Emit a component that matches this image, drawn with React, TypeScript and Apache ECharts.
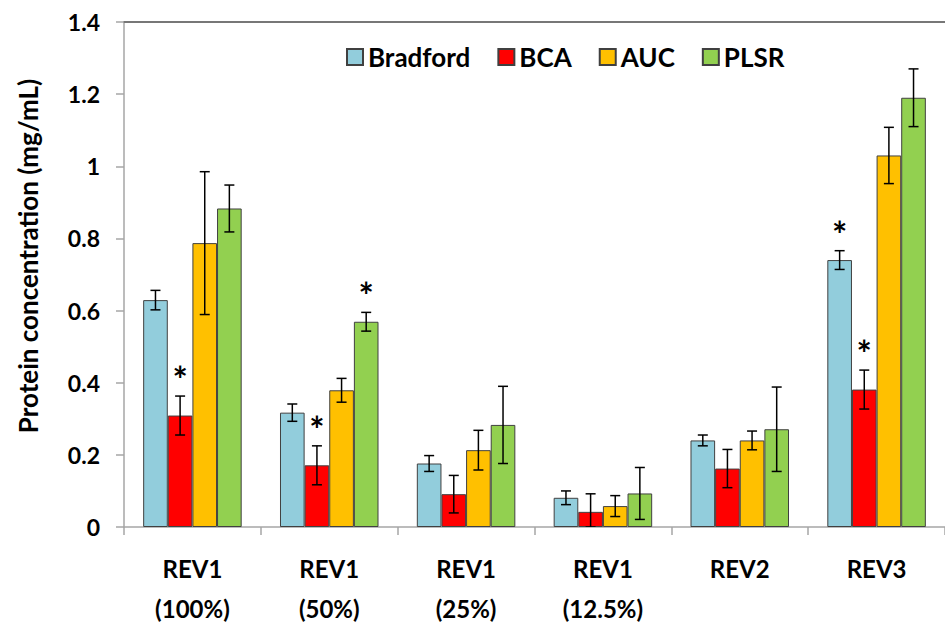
import React, { useEffect, useRef } from "react";
import * as echarts from "echarts";

const categories = ["REV1\n(100%)", "REV1\n(50%)", "REV1\n(25%)", "REV1\n(12.5%)", "REV2", "REV3"];
const seriesNames = ["Bradford", "BCA", "AUC", "PLSR"];
const bradford = [0.629, 0.317, 0.176, 0.081, 0.240, 0.740];
const bradfordErr = [0.027, 0.024, 0.022, 0.019, 0.015, 0.026];
const bca = [0.309, 0.171, 0.091, 0.042, 0.162, 0.381];
const bcaErr = [0.054, 0.054, 0.052, 0.050, 0.053, 0.054];
const auc = [0.787, 0.379, 0.213, 0.058, 0.240, 1.030];
const aucErr = [0.198, 0.033, 0.055, 0.029, 0.026, 0.078];
const plsr = [0.883, 0.569, 0.283, 0.093, 0.271, 1.190];
const plsrErr = [0.065, 0.026, 0.107, 0.072, 0.117, 0.080];
const bradfordStar = [0, 0, 0, 0, 0, 1];
const bcaStar = [1, 1, 0, 0, 0, 1];
const aucStar = [0, 0, 0, 0, 0, 0];
const plsrStar = [0, 1, 0, 0, 0, 0];
const yTitle = "Protein concentration (mg/mL)";

const colors = ["#92CDDC", "#FF0000", "#FFC000", "#92D050"];
const FONT = "Lato";
const BAR_FRAC = 0.18;

export default function App() {
  const ref = useRef<HTMLDivElement>(null);
  useEffect(() => {
    if (!ref.current) return;
    const chart = echarts.init(ref.current, null, { renderer: "svg" });
    const values = [bradford, bca, auc, plsr];
    const errs = [bradfordErr, bcaErr, aucErr, plsrErr];
    const stars = [bradfordStar, bcaStar, aucStar, plsrStar];

    const barSeries = seriesNames.map((name, i) => ({
      name,
      type: "bar",
      data: values[i],
      barWidth: BAR_FRAC * 100 + "%",
      barGap: "0%",
      itemStyle: { color: colors[i], borderColor: "#404040", borderWidth: 1 },
      z: 2,
    }));

    const errSeries = seriesNames.map((name, i) => ({
      name: name + "-err",
      type: "custom",
      z: 5,
      clip: true,
      data: values[i].map((v, k) => [k, v, errs[i][k], stars[i][k]]),
      encode: { x: 0, y: 1 },
      renderItem: (params: any, api: any) => {
        const k = api.value(0);
        const v = api.value(1);
        const e = api.value(2);
        const s = api.value(3);
        const band = api.size([1, 0])[0];
        const off = (i - 1.5) * band * BAR_FRAC;
        const top = api.coord([k, v + e]);
        const bot = api.coord([k, Math.max(0, v - e)]);
        const x = top[0] + off;
        const cap = 5;
        const st = { stroke: "#000", lineWidth: 1.5 };
        const children: any[] = [
          { type: "line", shape: { x1: x, y1: top[1], x2: x, y2: bot[1] }, style: st },
          { type: "line", shape: { x1: x - cap, y1: top[1], x2: x + cap, y2: top[1] }, style: st },
          { type: "line", shape: { x1: x - cap, y1: bot[1], x2: x + cap, y2: bot[1] }, style: st },
        ];
        if (s) {
          children.push({
            type: "text",
            style: {
              text: "*",
              x: x,
              y: top[1] - 17,
              align: "center",
              verticalAlign: "middle",
              fontSize: 36,
              fontWeight: "bold",
              fontFamily: FONT,
              fill: "#000",
            },
          });
        }
        return { type: "group", children };
      },
    }));

    chart.setOption({
      animation: false,
      backgroundColor: "#fff",
      grid: { left: 124, top: 22, width: 833, height: 514, containLabel: false },
      legend: {
        data: seriesNames,
        left: 341,
        top: 39,
        itemWidth: 16,
        itemHeight: 16,
        itemGap: 27,
        icon: "rect",
        textStyle: { fontFamily: FONT, fontWeight: "bold", fontSize: 26, color: "#000" },
      },
      graphic: [
        {
          type: "text",
          x: 28,
          y: 256,
          rotation: Math.PI / 2,
          style: {
            text: yTitle,
            align: "center",
            verticalAlign: "middle",
            fontFamily: FONT,
            fontWeight: "bold",
            fontSize: 26,
            fill: "#000",
          },
        },
      ],
      xAxis: [
        {
          type: "category",
          data: categories,
          axisLine: { lineStyle: { color: "#A6A6A6", width: 1.5 } },
          axisTick: { show: true, length: 8, lineStyle: { color: "#A6A6A6", width: 1.5 } },
          axisLabel: {
            margin: 21,
            fontFamily: FONT,
            fontWeight: "bold",
            fontSize: 24,
            lineHeight: 40,
            color: "#000",
          },
        },
        {
          type: "category",
          position: "top",
          data: categories,
          axisLine: { lineStyle: { color: "#777", width: 2 } },
          axisTick: { show: false },
          axisLabel: { show: false },
        },
      ],
      yAxis: {
        type: "value",
        min: 0,
        max: 1.4,
        interval: 0.2,
        axisLine: { show: true, lineStyle: { color: "#A6A6A6", width: 1.5 } },
        axisTick: { show: true, length: 8, lineStyle: { color: "#A6A6A6", width: 1.5 } },
        splitLine: { show: false },
        axisLabel: {
          margin: 24,
          fontFamily: FONT,
          fontWeight: "bold",
          fontSize: 23,
          color: "#000",
          formatter: (v: number) => String(Math.round(v * 10) / 10),
        },
      },
      series: [...barSeries, ...errSeries],
    });
    return () => chart.dispose();
  }, []);
  return <div ref={ref} style={{ position: "fixed", left: 0, top: 0, width: 945, height: 628 }} />;
}
